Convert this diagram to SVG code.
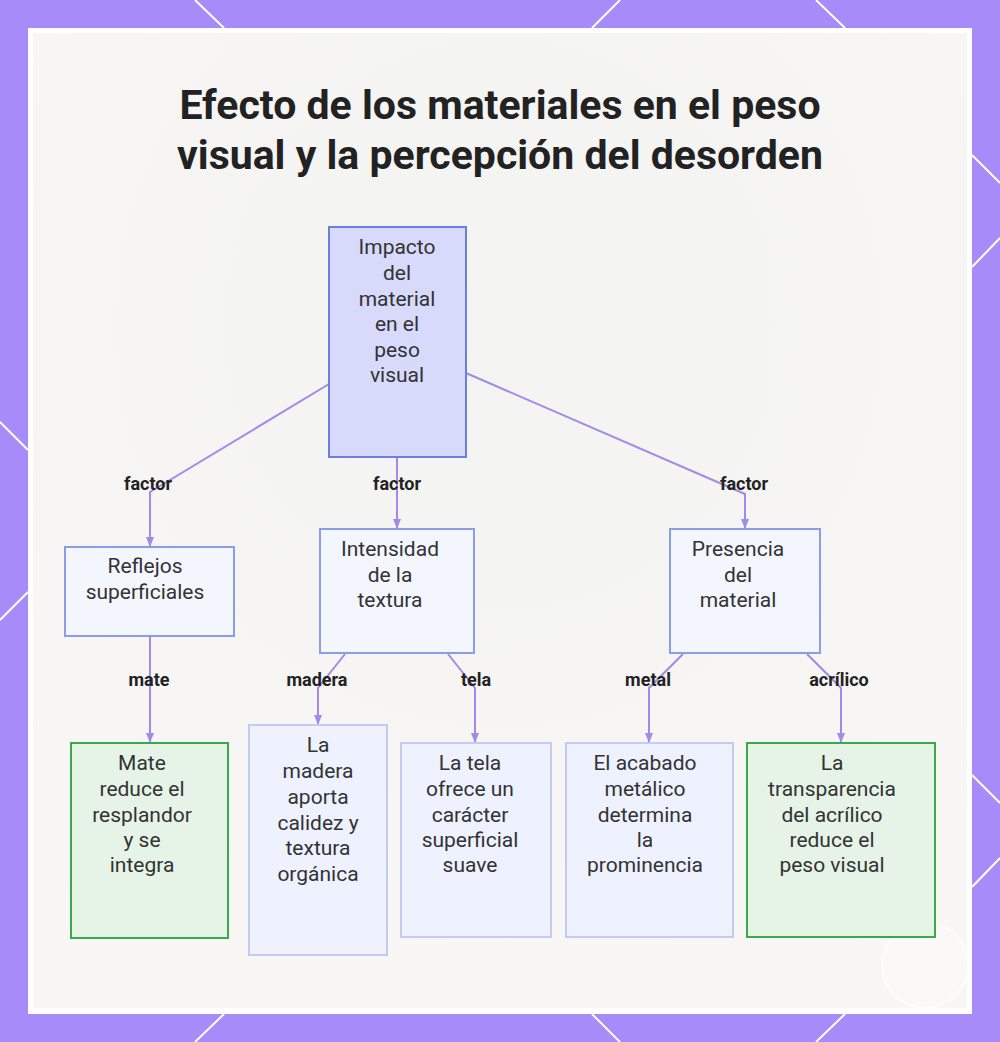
<svg xmlns="http://www.w3.org/2000/svg" width="1000" height="1042" viewBox="0 0 1000 1042">
  <defs>
    <style>
      .title { font-family: Roboto, "Liberation Sans", sans-serif; font-weight: 700; font-size: 41px; fill: #222222; text-anchor: middle; }
      .nt { font-family: Roboto, "Liberation Sans", sans-serif; font-size: 21px; fill: #333333; text-anchor: middle; }
      .el { font-family: Roboto, "Liberation Sans", sans-serif; font-weight: 700; font-size: 18px; fill: #222222; text-anchor: middle; }
      .conn { fill: none; stroke: #a08be8; stroke-width: 2; }
      .root { fill: #d7dafb; stroke: #6c7fe0; stroke-width: 2; }
      .mid { fill: #f4f6fe; stroke: #8a9de6; stroke-width: 2; }
      .leaf { fill: #eef1fe; stroke: #c3cbf5; stroke-width: 2; }
      .good { fill: #e6f4e7; stroke: #3aa94a; stroke-width: 2; }
      .deco { stroke: #ffffff; stroke-width: 2; fill: none; }
    </style>
    <marker id="arr" viewBox="0 0 10 10" refX="9" refY="5" markerWidth="5" markerHeight="5" orient="auto">
      <path d="M0,1 L10,5 L0,9 z" fill="#a08be8"/>
    </marker>
    <radialGradient id="bgGlow" cx="0.5" cy="0.3" r="0.75">
      <stop offset="0" stop-color="#f3f3f2"/>
      <stop offset="1" stop-color="#f8f7f5"/>
    </radialGradient>
  </defs>

  <!-- frame -->
  <rect x="0" y="0" width="1000" height="1042" fill="#a78bf8"/>
  <g class="deco">
    <line x1="195" y1="0" x2="224" y2="28"/>
    <line x1="620" y1="0" x2="592" y2="28"/>
    <line x1="816" y1="0" x2="845" y2="28"/>
    <line x1="195" y1="1042" x2="224" y2="1014"/>
    <line x1="620" y1="1042" x2="592" y2="1014"/>
    <line x1="816" y1="1042" x2="845" y2="1014"/>
    <line x1="0" y1="422" x2="28" y2="450"/>
    <line x1="28" y1="592" x2="0" y2="620"/>
    <line x1="972" y1="155" x2="1000" y2="183"/>
    <line x1="972" y1="267" x2="1000" y2="238"/>
    <line x1="972" y1="775" x2="1000" y2="803"/>
    <line x1="972" y1="887" x2="1000" y2="858"/>
  </g>
  <rect x="28" y="28" width="944" height="986" fill="#ffffff"/>
  <rect x="33" y="33" width="934" height="975" fill="url(#bgGlow)"/>
  <circle cx="925" cy="965" r="43" fill="#ffffff" fill-opacity="0.25" stroke="#ffffff" stroke-width="1.2"/>

  <!-- title -->
  <text class="title" x="500" y="119">Efecto de los materiales en el peso</text>
  <text class="title" x="500" y="169">visual y la percepción del desorden</text>

  <!-- connectors -->
  <g id="connectors">
    <polyline class="conn" points="329,384 150,492 150,546" marker-end="url(#arr)"/>
    <polyline class="conn" points="397,457 397,528" marker-end="url(#arr)"/>
    <polyline class="conn" points="466,373 745,494 745,528" marker-end="url(#arr)"/>
    <polyline class="conn" points="150,636 150,742" marker-end="url(#arr)"/>
    <polyline class="conn" points="345,654 318,688 318,724" marker-end="url(#arr)"/>
    <polyline class="conn" points="448,654 475,688 475,742" marker-end="url(#arr)"/>
    <polyline class="conn" points="683,654 649,688 649,742" marker-end="url(#arr)"/>
    <polyline class="conn" points="807,654 841,688 841,742" marker-end="url(#arr)"/>
    <text class="el" x="148" y="490">factor</text>
    <text class="el" x="397" y="490">factor</text>
    <text class="el" x="744" y="490">factor</text>
    <text class="el" x="149" y="686">mate</text>
    <text class="el" x="317" y="686">madera</text>
    <text class="el" x="476" y="686">tela</text>
    <text class="el" x="648" y="686">metal</text>
    <text class="el" x="839" y="686">acrílico</text>
  </g>

  <!-- nodes -->
  <g id="root">
    <rect class="root" x="329" y="227" width="137" height="230"/>
    <text class="nt" x="397" y="254">Impacto</text>
    <text class="nt" x="397" y="280">del</text>
    <text class="nt" x="397" y="306">material</text>
    <text class="nt" x="397" y="331">en el</text>
    <text class="nt" x="397" y="357">peso</text>
    <text class="nt" x="397" y="382">visual</text>
  </g>
  <g id="reflejos">
    <rect class="mid" x="65" y="547" width="169" height="89"/>
    <text class="nt" x="145" y="573">Reflejos</text>
    <text class="nt" x="145" y="599">superficiales</text>
  </g>
  <g id="intensidad">
    <rect class="mid" x="320" y="529" width="154" height="124"/>
    <text class="nt" x="390" y="556">Intensidad</text>
    <text class="nt" x="390" y="582">de la</text>
    <text class="nt" x="390" y="607">textura</text>
  </g>
  <g id="presencia">
    <rect class="mid" x="670" y="529" width="150" height="124"/>
    <text class="nt" x="738" y="556">Presencia</text>
    <text class="nt" x="738" y="582">del</text>
    <text class="nt" x="738" y="607">material</text>
  </g>
  <g id="mate">
    <rect class="good" x="71" y="743" width="157" height="195"/>
    <text class="nt" x="142" y="770">Mate</text>
    <text class="nt" x="142" y="796">reduce el</text>
    <text class="nt" x="142" y="822">resplandor</text>
    <text class="nt" x="142" y="847">y se</text>
    <text class="nt" x="142" y="872">integra</text>
  </g>
  <g id="madera">
    <rect class="leaf" x="249" y="725" width="138" height="230"/>
    <text class="nt" x="318" y="752">La</text>
    <text class="nt" x="318" y="778">madera</text>
    <text class="nt" x="318" y="804">aporta</text>
    <text class="nt" x="318" y="830">calidez y</text>
    <text class="nt" x="318" y="855">textura</text>
    <text class="nt" x="318" y="881">orgánica</text>
  </g>
  <g id="tela">
    <rect class="leaf" x="401" y="743" width="150" height="194"/>
    <text class="nt" x="470" y="770">La tela</text>
    <text class="nt" x="470" y="796">ofrece un</text>
    <text class="nt" x="470" y="822">carácter</text>
    <text class="nt" x="470" y="847">superficial</text>
    <text class="nt" x="470" y="872">suave</text>
  </g>
  <g id="metal">
    <rect class="leaf" x="566" y="743" width="167" height="194"/>
    <text class="nt" x="645" y="770">El acabado</text>
    <text class="nt" x="645" y="796">metálico</text>
    <text class="nt" x="645" y="822">determina</text>
    <text class="nt" x="645" y="847">la</text>
    <text class="nt" x="645" y="872">prominencia</text>
  </g>
  <g id="acrilico">
    <rect class="good" x="747" y="743" width="188" height="194"/>
    <text class="nt" x="832" y="770">La</text>
    <text class="nt" x="832" y="796">transparencia</text>
    <text class="nt" x="832" y="822">del acrílico</text>
    <text class="nt" x="832" y="847">reduce el</text>
    <text class="nt" x="832" y="872">peso visual</text>
  </g>
</svg>
